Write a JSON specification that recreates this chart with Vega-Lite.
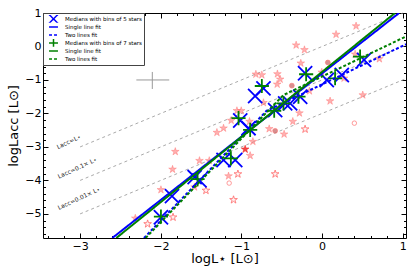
{
  "$schema": "https://vega.github.io/schema/vega-lite/v6.json",
  "width": 363,
  "height": 225,
  "autosize": {"type": "none"},
  "padding": {"left": 43, "top": 13, "right": 9, "bottom": 39},
  "background": "white",
  "config": {
    "view": {"stroke": null},
    "font": "DejaVu Sans",
    "axis": {"grid": false, "domainColor": "black", "tickColor": "black", "labelColor": "black", "titleColor": "black", "labelFont": "DejaVu Sans", "titleFont": "DejaVu Sans", "titleFontWeight": "normal", "labelFlush": false, "labelOverlap": false},
    "legend": {"symbolSize": 80}
  },
  "datasets": {
    "pts": [
      {"x": -1.820, "y": -3.14, "k": "s"}, {"x": -1.520, "y": -3.41, "k": "s"}, {"x": -1.399, "y": -3.41, "k": "s"},
      {"x": -1.854, "y": -3.67, "k": "s"}, {"x": -1.998, "y": -4.28, "k": "s"}, {"x": -1.581, "y": -4.20, "k": "s"},
      {"x": -2.316, "y": -5.13, "k": "s"}, {"x": -0.821, "y": -0.83, "k": "s"}, {"x": -0.747, "y": -0.85, "k": "s"},
      {"x": -0.554, "y": -0.82, "k": "s"}, {"x": -0.557, "y": -1.13, "k": "s"}, {"x": -0.727, "y": -1.68, "k": "s"},
      {"x": -1.056, "y": -1.92, "k": "s"}, {"x": -1.003, "y": -1.92, "k": "s"}, {"x": -1.127, "y": -2.21, "k": "s"},
      {"x": -1.222, "y": -2.44, "k": "s"}, {"x": -1.304, "y": -2.57, "k": "s"}, {"x": -0.900, "y": -2.24, "k": "s"},
      {"x": -0.656, "y": -2.46, "k": "s"}, {"x": -0.858, "y": -2.84, "k": "s"}, {"x": -0.892, "y": -3.26, "k": "s"},
      {"x": -1.160, "y": -3.87, "k": "s"}, {"x": 0.173, "y": 0.36, "k": "s"}, {"x": -0.322, "y": 0.04, "k": "s"},
      {"x": -0.219, "y": -0.10, "k": "s"}, {"x": -0.264, "y": -0.50, "k": "s"}, {"x": -0.520, "y": -0.98, "k": "s"},
      {"x": -0.004, "y": -0.77, "k": "s"}, {"x": -0.157, "y": -1.33, "k": "s"}, {"x": 0.099, "y": -1.63, "k": "s"},
      {"x": -0.281, "y": -1.99, "k": "s"}, {"x": -0.363, "y": -2.24, "k": "s"}, {"x": -0.471, "y": -2.62, "k": "s"},
      {"x": 0.421, "y": 0.61, "k": "s"}, {"x": 0.409, "y": -0.23, "k": "s"}, {"x": 0.710, "y": -0.37, "k": "s"},
      {"x": 0.272, "y": -0.95, "k": "s"}, {"x": 0.504, "y": -1.45, "k": "s"},
      {"x": -0.954, "y": -3.07, "k": "d"},
      {"x": -1.848, "y": -5.10, "k": "o"}, {"x": -2.163, "y": -5.30, "k": "o"}, {"x": -1.440, "y": -4.30, "k": "o"},
      {"x": -1.044, "y": -3.81, "k": "o"}, {"x": -1.098, "y": -4.58, "k": "o"}, {"x": -0.582, "y": -3.81, "k": "o"},
      {"x": -0.211, "y": -2.47, "k": "o"},
      {"x": -0.582, "y": -2.52, "k": "c"}, {"x": -0.375, "y": -1.17, "k": "c"}, {"x": 0.071, "y": -0.48, "k": "c"},
      {"x": -1.152, "y": -4.08, "k": "oc"}, {"x": 0.400, "y": -2.29, "k": "oc"}
    ],
    "med": [
      {"x": -1.998, "y": -5.10, "s": "M5"}, {"x": -1.861, "y": -4.47, "s": "M5"}, {"x": -1.58, "y": -3.90, "s": "M5"},
      {"x": -1.52, "y": -4.00, "s": "M5"}, {"x": -1.222, "y": -3.39, "s": "M5"}, {"x": -1.077, "y": -3.39, "s": "M5"},
      {"x": -1.015, "y": -2.21, "s": "M5"}, {"x": -0.912, "y": -2.44, "s": "M5"}, {"x": -0.830, "y": -1.48, "s": "M5"},
      {"x": -0.727, "y": -1.25, "s": "M5"}, {"x": -0.582, "y": -1.90, "s": "M5"}, {"x": -0.458, "y": -1.70, "s": "M5"},
      {"x": -0.396, "y": -1.70, "s": "M5"}, {"x": -0.272, "y": -1.50, "s": "M5"}, {"x": -0.211, "y": -0.80, "s": "M5"},
      {"x": 0.058, "y": -1.00, "s": "M5"}, {"x": 0.244, "y": -0.85, "s": "M5"}, {"x": 0.520, "y": -0.40, "s": "M5"},
      {"x": -1.998, "y": -5.08, "s": "M7"}, {"x": -1.544, "y": -3.96, "s": "M7"}, {"x": -1.131, "y": -3.34, "s": "M7"},
      {"x": -1.036, "y": -2.14, "s": "M7"}, {"x": -0.892, "y": -2.49, "s": "M7"}, {"x": -0.747, "y": -1.18, "s": "M7"},
      {"x": -0.594, "y": -1.92, "s": "M7"}, {"x": -0.479, "y": -1.70, "s": "M7"}, {"x": -0.293, "y": -1.50, "s": "M7"},
      {"x": -0.198, "y": -0.83, "s": "M7"}, {"x": 0.161, "y": -0.95, "s": "M7"}, {"x": 0.471, "y": -0.30, "s": "M7"}
    ],
    "fits": [
      {"x": -2.601, "y": -5.72, "s": "S5", "o": 1}, {"x": 0.954, "y": 1.0, "s": "S5", "o": 2},
      {"x": -2.208, "y": -5.72, "s": "T5", "o": 1}, {"x": -0.69, "y": -1.925, "s": "T5", "o": 2}, {"x": 1.04, "y": 0.066, "s": "T5", "o": 3},
      {"x": -2.551, "y": -5.72, "s": "S7", "o": 1}, {"x": 0.904, "y": 1.0, "s": "S7", "o": 2},
      {"x": -2.188, "y": -5.72, "s": "T7", "o": 1}, {"x": -0.48, "y": -1.45, "s": "T7", "o": 2}, {"x": 1.04, "y": 0.30, "s": "T7", "o": 3}
    ],
    "ref": [
      {"x": -3, "y": -3, "g": "a"}, {"x": 1, "y": 1, "g": "a"},
      {"x": -3, "y": -4, "g": "b"}, {"x": 1.04, "y": 0.04, "g": "b"},
      {"x": -3, "y": -5, "g": "c"}, {"x": 1.04, "y": -0.96, "g": "c"}
    ],
    "lab": [
      {"x": -3.14, "y": -2.85, "t": "Lacc=L⋆"},
      {"x": -3.034, "y": -3.63, "t": "Lacc=0.1× L⋆"},
      {"x": -3.015, "y": -4.54, "t": "Lacc=0.01× L⋆"}
    ],
    "err": [
      {"x": -2.303, "x2": -1.895, "y": -1.0, "y2": -1.0},
      {"x": -2.105, "x2": -2.105, "y": -0.761, "y2": -1.269}
    ]
  },
  "layer": [
    {
      "data": {"name": "ref"},
      "mark": {"type": "line", "color": "#aaaaaa", "strokeWidth": 1, "strokeDash": [3, 3]},
      "encoding": {
        "detail": {"field": "g"},
        "x": {"field": "x", "type": "quantitative", "scale": {"domain": [-3.46, 1.04], "nice": false, "zero": false},
          "axis": {"orient": "bottom", "title": "logL⋆ [L⊙]", "titleFontSize": 13, "titlePadding": -1, "labelFontSize": 11, "labelPadding": 7,
            "values": [-3.4, -3.2, -3, -2.8, -2.6, -2.4, -2.2, -2, -1.8, -1.6, -1.4, -1.2, -1, -0.8, -0.6, -0.4, -0.2, 0, 0.2, 0.4, 0.6, 0.8, 1],
            "labelExpr": "abs(datum.value - round(datum.value)) < 0.01 ? format(datum.value, 'd') : ''",
            "tickSize": {"condition": {"test": "abs(datum.value - round(datum.value)) < 0.01", "value": -5}, "value": -2.5}}},
        "y": {"field": "y", "type": "quantitative", "scale": {"domain": [-5.72, 1.0], "nice": false, "zero": false},
          "axis": {"orient": "left", "title": "logLacc [L⊙]", "titleFontSize": 13, "titlePadding": 4, "labelFontSize": 11, "labelPadding": 7,
            "values": [-5.6, -5.4, -5.2, -5, -4.8, -4.6, -4.4, -4.2, -4, -3.8, -3.6, -3.4, -3.2, -3, -2.8, -2.6, -2.4, -2.2, -2, -1.8, -1.6, -1.4, -1.2, -1, -0.8, -0.6, -0.4, -0.2, 0, 0.2, 0.4, 0.6, 0.8, 1],
            "labelExpr": "abs(datum.value - round(datum.value)) < 0.01 ? format(datum.value, 'd') : ''",
            "tickSize": {"condition": {"test": "abs(datum.value - round(datum.value)) < 0.01", "value": -5}, "value": -2.5}}}
      }
    },
    {
      "data": {"name": "err"},
      "mark": {"type": "rule", "color": "#999999", "strokeWidth": 1},
      "encoding": {
        "x": {"field": "x", "type": "quantitative", "scale": {"domain": [-3.46, 1.04], "nice": false, "zero": false}, "axis": null},
        "x2": {"field": "x2"},
        "y": {"field": "y", "type": "quantitative", "scale": {"domain": [-5.72, 1.0], "nice": false, "zero": false}, "axis": null},
        "y2": {"field": "y2"}
      }
    },
    {
      "data": {"name": "lab"},
      "mark": {"type": "text", "angle": 335, "fontSize": 6, "color": "#222222", "align": "center", "baseline": "middle"},
      "encoding": {
        "x": {"field": "x", "type": "quantitative", "scale": {"domain": [-3.46, 1.04], "nice": false, "zero": false}, "axis": null},
        "y": {"field": "y", "type": "quantitative", "scale": {"domain": [-5.72, 1.0], "nice": false, "zero": false}, "axis": null},
        "text": {"field": "t"}
      }
    },
    {
      "data": {"name": "pts"},
      "transform": [{"filter": "datum.k == 's'"}],
      "mark": {"type": "point", "shape": "M0,-1L0.2245,-0.309L0.951,-0.309L0.363,0.118L0.588,0.809L0,0.382L-0.588,0.809L-0.363,0.118L-0.951,-0.309L-0.2245,-0.309Z", "filled": true, "fill": "#ff6f6f", "fillOpacity": 0.55, "stroke": "#ff6f6f", "strokeOpacity": 0.7, "strokeWidth": 0.6, "size": 65},
      "encoding": {
        "x": {"field": "x", "type": "quantitative", "scale": {"domain": [-3.46, 1.04], "nice": false, "zero": false},
          "axis": {"orient": "top", "title": null, "labels": false,
            "values": [-3.4, -3.2, -3, -2.8, -2.6, -2.4, -2.2, -2, -1.8, -1.6, -1.4, -1.2, -1, -0.8, -0.6, -0.4, -0.2, 0, 0.2, 0.4, 0.6, 0.8, 1],
            "tickSize": {"condition": {"test": "abs(datum.value - round(datum.value)) < 0.01", "value": -5}, "value": -2.5}}},
        "y": {"field": "y", "type": "quantitative", "scale": {"domain": [-5.72, 1.0], "nice": false, "zero": false},
          "axis": {"orient": "right", "title": null, "labels": false,
            "values": [-5.6, -5.4, -5.2, -5, -4.8, -4.6, -4.4, -4.2, -4, -3.8, -3.6, -3.4, -3.2, -3, -2.8, -2.6, -2.4, -2.2, -2, -1.8, -1.6, -1.4, -1.2, -1, -0.8, -0.6, -0.4, -0.2, 0, 0.2, 0.4, 0.6, 0.8, 1],
            "tickSize": {"condition": {"test": "abs(datum.value - round(datum.value)) < 0.01", "value": -5}, "value": -2.5}}}
      }
    },
    {
      "data": {"name": "pts"},
      "transform": [{"filter": "datum.k == 'd'"}],
      "mark": {"type": "point", "shape": "M0,-1L0.2245,-0.309L0.951,-0.309L0.363,0.118L0.588,0.809L0,0.382L-0.588,0.809L-0.363,0.118L-0.951,-0.309L-0.2245,-0.309Z", "filled": true, "fill": "#f02828", "fillOpacity": 0.85, "stroke": "#f02828", "strokeWidth": 0.6, "size": 65},
      "encoding": {
        "x": {"field": "x", "type": "quantitative", "scale": {"domain": [-3.46, 1.04], "nice": false, "zero": false}, "axis": null},
        "y": {"field": "y", "type": "quantitative", "scale": {"domain": [-5.72, 1.0], "nice": false, "zero": false}, "axis": null}
      }
    },
    {
      "data": {"name": "pts"},
      "transform": [{"filter": "datum.k == 'o'"}],
      "mark": {"type": "point", "shape": "M0,-1L0.2245,-0.309L0.951,-0.309L0.363,0.118L0.588,0.809L0,0.382L-0.588,0.809L-0.363,0.118L-0.951,-0.309L-0.2245,-0.309Z", "filled": true, "fill": "#fff0f0", "fillOpacity": 0.8, "stroke": "#ff6f6f", "strokeOpacity": 0.85, "strokeWidth": 1, "size": 65},
      "encoding": {
        "x": {"field": "x", "type": "quantitative", "scale": {"domain": [-3.46, 1.04], "nice": false, "zero": false}, "axis": null},
        "y": {"field": "y", "type": "quantitative", "scale": {"domain": [-5.72, 1.0], "nice": false, "zero": false}, "axis": null}
      }
    },
    {
      "data": {"name": "pts"},
      "transform": [{"filter": "datum.k == 'c'"}],
      "mark": {"type": "point", "shape": "circle", "filled": true, "fill": "#c86b6b", "fillOpacity": 0.75, "stroke": "#ff7070", "strokeWidth": 0.6, "size": 24},
      "encoding": {
        "x": {"field": "x", "type": "quantitative", "scale": {"domain": [-3.46, 1.04], "nice": false, "zero": false}, "axis": null},
        "y": {"field": "y", "type": "quantitative", "scale": {"domain": [-5.72, 1.0], "nice": false, "zero": false}, "axis": null}
      }
    },
    {
      "data": {"name": "pts"},
      "transform": [{"filter": "datum.k == 'oc'"}],
      "mark": {"type": "point", "shape": "circle", "filled": false, "stroke": "#ff6060", "strokeOpacity": 0.9, "strokeWidth": 1, "size": 20},
      "encoding": {
        "x": {"field": "x", "type": "quantitative", "scale": {"domain": [-3.46, 1.04], "nice": false, "zero": false}, "axis": null},
        "y": {"field": "y", "type": "quantitative", "scale": {"domain": [-5.72, 1.0], "nice": false, "zero": false}, "axis": null}
      }
    },
    {
      "data": {"name": "med"},
      "mark": {"type": "point", "filled": false, "strokeWidth": 1.8, "size": 200, "opacity": 1},
      "encoding": {
        "x": {"field": "x", "type": "quantitative", "scale": {"domain": [-3.46, 1.04], "nice": false, "zero": false}, "axis": null},
        "y": {"field": "y", "type": "quantitative", "scale": {"domain": [-5.72, 1.0], "nice": false, "zero": false}, "axis": null},
        "color": {"field": "s", "type": "nominal",
          "scale": {"domain": ["M5", "S5", "T5", "M7", "S7", "T7"], "range": ["#0000ff", "#0000ff", "#0000ff", "#008000", "#008000", "#008000"]},
          "legend": {"title": null, "orient": "top-left", "offset": 0, "padding": 2, "fillColor": "white", "strokeColor": "#444444", "labelFontSize": 5.5, "labelFont": "DejaVu Sans", "symbolSize": 80, "symbolStrokeWidth": 1.5, "rowPadding": 0, "clipHeight": 7.8, "symbolOffset": 3, "labelOffset": 6, "labelLimit": 300,
            "labelExpr": "{'M5': 'Medians with bins of 5 stars', 'S5': 'Single line fit', 'T5': 'Two lines fit', 'M7': 'Medians with bins of 7 stars', 'S7': 'Single line fit', 'T7': 'Two lines fit'}[datum.value]"}},
        "shape": {"field": "s", "type": "nominal",
          "scale": {"domain": ["M5", "S5", "T5", "M7", "S7", "T7"], "range": ["M-1,-1L1,1M1,-1L-1,1", "stroke", "stroke", "M-1,0L1,0M0,-1L0,1", "stroke", "stroke"]},
          "legend": {"title": null, "orient": "top-left", "offset": 0, "padding": 2, "fillColor": "white", "strokeColor": "#444444", "labelFontSize": 5.5, "labelFont": "DejaVu Sans", "symbolSize": 80, "symbolStrokeWidth": 1.5, "rowPadding": 0, "clipHeight": 7.8, "symbolOffset": 3, "labelOffset": 6, "labelLimit": 300,
            "labelExpr": "{'M5': 'Medians with bins of 5 stars', 'S5': 'Single line fit', 'T5': 'Two lines fit', 'M7': 'Medians with bins of 7 stars', 'S7': 'Single line fit', 'T7': 'Two lines fit'}[datum.value]"}}
      }
    },
    {
      "data": {"name": "fits"},
      "mark": {"type": "line", "strokeWidth": 2, "clip": true},
      "encoding": {
        "x": {"field": "x", "type": "quantitative", "scale": {"domain": [-3.46, 1.04], "nice": false, "zero": false}, "axis": null},
        "y": {"field": "y", "type": "quantitative", "scale": {"domain": [-5.72, 1.0], "nice": false, "zero": false}, "axis": null},
        "order": {"field": "o"},
        "color": {"field": "s", "type": "nominal",
          "scale": {"domain": ["M5", "S5", "T5", "M7", "S7", "T7"], "range": ["#0000ff", "#0000ff", "#0000ff", "#008000", "#008000", "#008000"]},
          "legend": {"title": null, "orient": "top-left", "offset": 0, "padding": 2, "fillColor": "white", "strokeColor": "#444444", "labelFontSize": 5.5, "labelFont": "DejaVu Sans", "symbolSize": 80, "symbolStrokeWidth": 1.5, "rowPadding": 0, "clipHeight": 7.8, "symbolOffset": 3, "labelOffset": 6, "labelLimit": 300,
            "labelExpr": "{'M5': 'Medians with bins of 5 stars', 'S5': 'Single line fit', 'T5': 'Two lines fit', 'M7': 'Medians with bins of 7 stars', 'S7': 'Single line fit', 'T7': 'Two lines fit'}[datum.value]"}},
        "strokeDash": {"field": "s", "type": "nominal",
          "scale": {"domain": ["M5", "S5", "T5", "M7", "S7", "T7"], "range": [[1, 0], [1, 0], [3, 2], [1, 0], [1, 0], [3, 2]]},
          "legend": {"title": null, "orient": "top-left", "offset": 0, "padding": 2, "fillColor": "white", "strokeColor": "#444444", "labelFontSize": 5.5, "labelFont": "DejaVu Sans", "symbolSize": 80, "symbolStrokeWidth": 1.5, "rowPadding": 0, "clipHeight": 7.8, "symbolOffset": 3, "labelOffset": 6, "labelLimit": 300,
            "labelExpr": "{'M5': 'Medians with bins of 5 stars', 'S5': 'Single line fit', 'T5': 'Two lines fit', 'M7': 'Medians with bins of 7 stars', 'S7': 'Single line fit', 'T7': 'Two lines fit'}[datum.value]"}}
      }
    }
  ],
  "resolve": {"axis": {"x": "independent", "y": "independent"}}
}
